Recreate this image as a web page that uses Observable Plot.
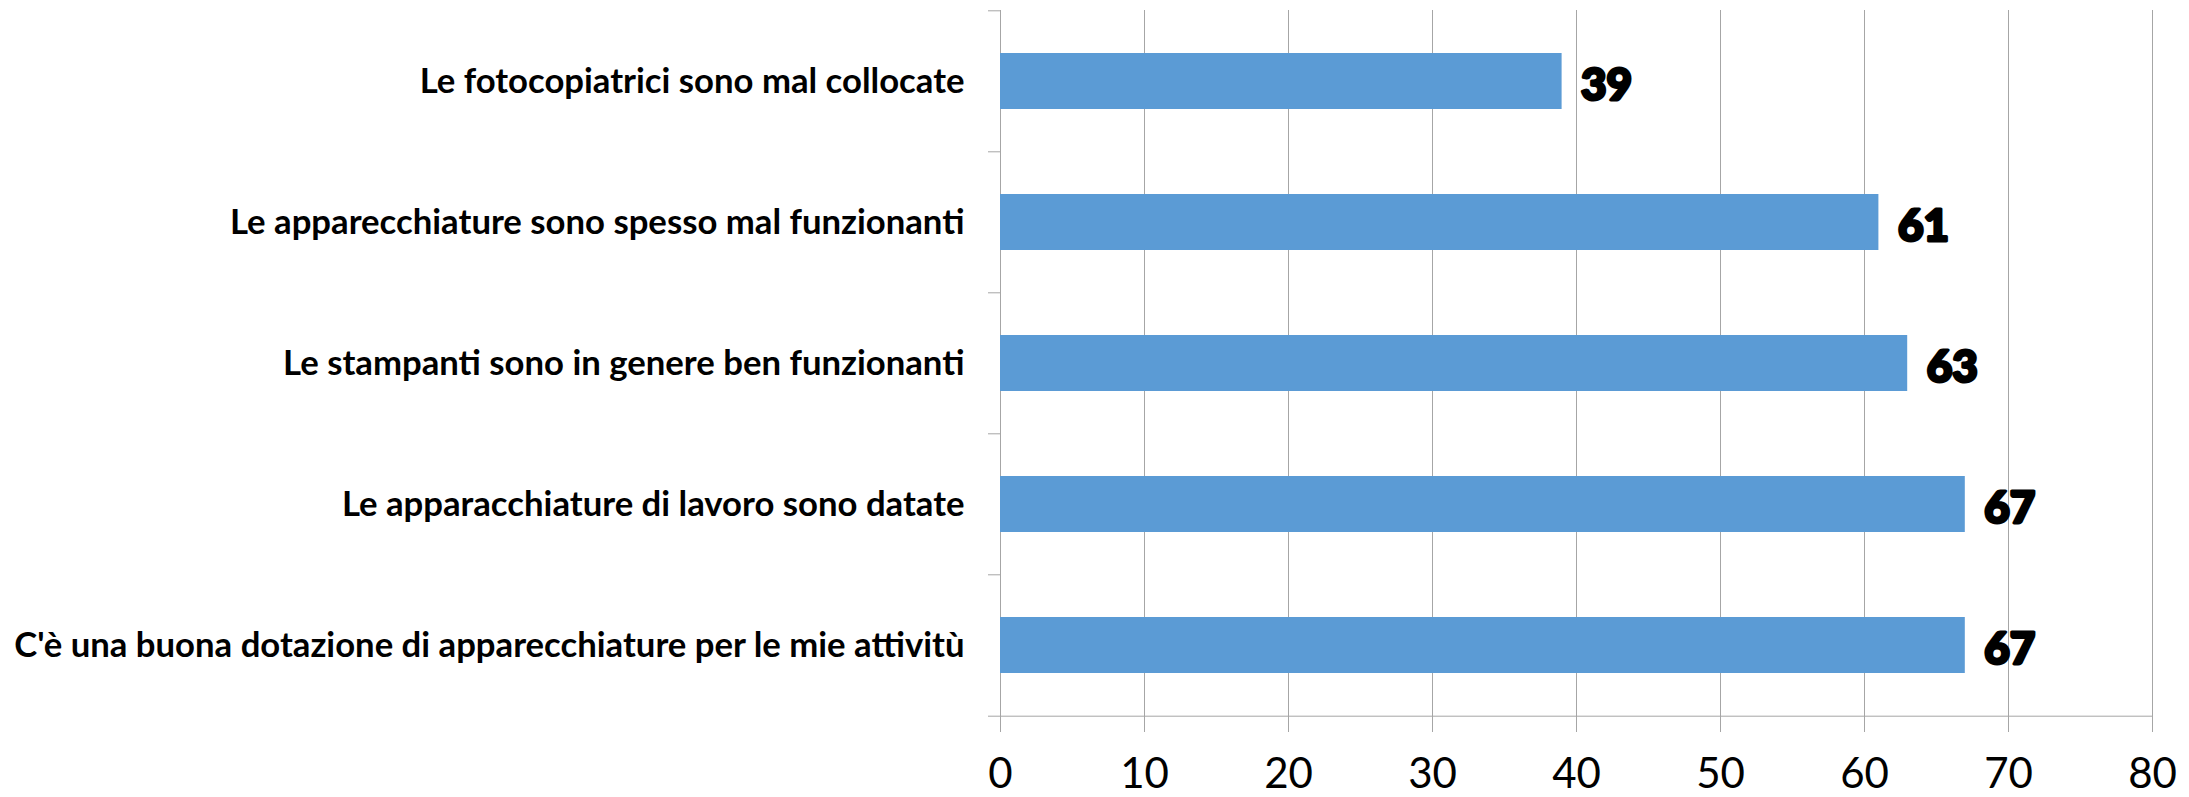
<!DOCTYPE html>
<html>
<head>
<meta charset="utf-8">
<script src="https://cdn.jsdelivr.net/npm/d3@7"></script>
<script src="https://cdn.jsdelivr.net/npm/@observablehq/plot@0.6"></script>
<style>
  html, body { margin: 0; padding: 0; background: #ffffff; }
  #chart svg { display: block; }
</style>
</head>
<body>
<div id="chart"></div>
<script>
// ---- Data ----
const categories = [
  "Le fotocopiatrici sono mal collocate",
  "Le apparecchiature sono spesso mal funzionanti",
  "Le stampanti sono in genere ben funzionanti",
  "Le apparacchiature di lavoro sono datate",
  "C'è una buona dotazione di apparecchiature per le mie attivitù"
];
const values = [39, 61, 63, 67, 67];
const xTicks = [0, 10, 20, 30, 40, 50, 60, 70, 80];

const data = categories.map((c, i) => ({category: c, value: values[i]}));

// ---- Layout ----
const W = 2189, H = 797;
const mt = 10, mb = 80, ml = 1000, mr = 37;
const step = (H - mt - mb) / categories.length;
const grid = "#a6a6a6";

const chart = Plot.plot({
  width: W,
  height: H,
  marginTop: mt,
  marginBottom: mb,
  marginLeft: ml,
  marginRight: mr,
  style: {fontFamily: "Lato, 'Open Sans', sans-serif", background: "#ffffff", color: "#000000"},
  x: {domain: [0, 80], ticks: xTicks},
  y: {domain: categories, paddingInner: 0.6, paddingOuter: 0.3},
  marks: [
    // vertical gridlines (incl. the value axis at 0)
    Plot.ruleX(xTicks, {stroke: grid, strokeWidth: 1}),
    // category boundary tick marks on the left of the axis
    Plot.ruleY(categories, {y: d => d, x1: 0, x2: 0, dy: -step / 2, insetLeft: -12, stroke: grid}),
    // bottom axis line
    Plot.ruleY([categories[categories.length - 1]], {y: d => d, dy: step / 2, insetLeft: -12, stroke: grid}),
    Plot.axisX({ticks: xTicks, tickSize: 15, tickPadding: 26, stroke: grid, fontSize: 42, label: null, fill: "#000"}),
    Plot.barX(data, {x: "value", y: "category", fill: "#5b9bd5"}),
    Plot.axisY({tickSize: 0, tickPadding: 36, fontSize: 34.7, fontWeight: "bold", label: null, fill: "#000"}),
    Plot.text(data, {
      x: "value", y: "category", text: d => String(d.value),
      textAnchor: "start", dx: 19, dy: 4,
      fontSize: 44, fontWeight: 900, fill: "#000", stroke: "#000", strokeWidth: 3
    })
  ]
});
document.getElementById("chart").appendChild(chart);
</script>
</body>
</html>
